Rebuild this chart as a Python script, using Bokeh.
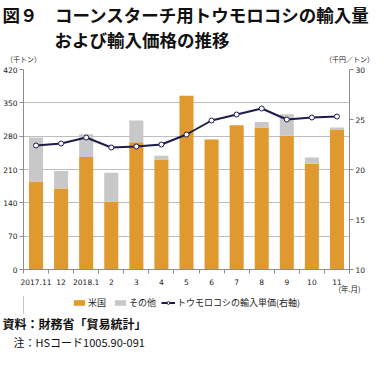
from bokeh.plotting import figure
from bokeh.layouts import column
from bokeh.models import (Range1d, LinearAxis, FixedTicker, Legend, LegendItem,
                          ColumnDataSource, Title)
from bokeh.embed import file_html
from bokeh.resources import INLINE

# ---- data ----
months = ["2017.11", "12", "2018.1", "2", "3", "4", "5", "6", "7", "8", "9", "10", "11"]
us_volume = [185, 170, 236, 143, 267, 231, 365, 273, 303, 298, 281, 222, 294]
other_volume = [92, 37, 48, 60, 46, 8, 0, 0, 0, 12, 45, 13, 4]
unit_price = [22.4, 22.6, 23.2, 22.2, 22.3, 22.5, 23.5, 24.9, 25.5, 26.1, 25.0, 25.2, 25.3]
left_ticks = [0, 70, 140, 210, 280, 350, 420]
right_ticks = [10, 15, 20, 25, 30]
unit_labels = ["（千トン）", "（千円／トン）"]
x_unit_label = "(年.月)"
series_names = ["米国", "その他", "トウモロコシの輸入単価(右軸)"]

ORANGE = "#E0992E"
GREY = "#C8C8C8"
NAVY = "#1E1C4C"
AXIS = "#8C8C8C"
TXT = "#1a1a1a"
JP = "Noto Sans CJK JP"
NUM = "DejaVu Sans"

W = 374
H_MAIN, H_FOOT = 296, 53
LEFT, RIGHT = 21, 25

xs = list(range(len(months)))
src = ColumnDataSource(dict(x=xs, us=us_volume, other=other_volume, price=unit_price))

p = figure(width=W, height=H_MAIN, output_backend="svg", toolbar_location=None,
           x_range=Range1d(-0.5, len(months) - 0.5), y_range=Range1d(0, 420),
           min_border_top=0, min_border_bottom=0,
           min_border_left=LEFT, min_border_right=RIGHT,
           title=None, x_axis_location=None, y_axis_location=None)
p.outline_line_color = None
p.background_fill_color = "white"
p.border_fill_color = "white"
p.extra_y_ranges = {"price": Range1d(10, 30)}
p.extra_x_ranges = {"unit": Range1d(0, 1), "ym": Range1d(0, 1)}

# grid
p.xgrid.visible = False
p.ygrid.ticker = FixedTicker(ticks=left_ticks[1:])
p.ygrid.grid_line_color = "#BDBDBD"
p.ygrid.grid_line_width = 1

# x axis (ticks between categories)
xaxis = LinearAxis(ticker=FixedTicker(ticks=xs, minor_ticks=[i - 0.5 for i in range(len(months) + 1)]))
xaxis.major_label_overrides = {i: m for i, m in enumerate(months)}
xaxis.major_tick_out = 0
xaxis.major_tick_in = 0
xaxis.minor_tick_out = 4
xaxis.minor_tick_in = 0
xaxis.minor_tick_line_color = AXIS
xaxis.axis_line_color = AXIS
xaxis.major_label_standoff = 5
xaxis.major_label_text_font = NUM
xaxis.major_label_text_font_size = "7.5px"
xaxis.major_label_text_color = TXT
p.add_layout(xaxis, "below")

# (年.月) label row
ymaxis = LinearAxis(x_range_name="ym", ticker=FixedTicker(ticks=[1]))
ymaxis.major_label_overrides = {1: x_unit_label}
ymaxis.axis_line_color = None
ymaxis.major_tick_line_color = None
ymaxis.minor_tick_line_color = None
ymaxis.major_tick_out = 0
ymaxis.major_tick_in = 0
ymaxis.major_label_standoff = -5
ymaxis.major_label_text_font = JP
ymaxis.major_label_text_font_size = "7.5px"
ymaxis.major_label_text_color = TXT
p.add_layout(ymaxis, "below")

# y axes
laxis = LinearAxis(ticker=FixedTicker(ticks=left_ticks))
raxis = LinearAxis(ticker=FixedTicker(ticks=right_ticks), y_range_name="price")
for ax in (laxis, raxis):
    ax.major_tick_out = 4
    ax.major_tick_in = 0
    ax.minor_tick_out = 0
    ax.minor_tick_in = 0
    ax.axis_line_color = AXIS
    ax.major_tick_line_color = AXIS
    ax.major_label_standoff = 2
    ax.major_label_text_font = NUM
    ax.major_label_text_font_size = "7.5px"
    ax.major_label_text_color = TXT
p.add_layout(laxis, "left")
p.add_layout(raxis, "right")

# unit labels row above the plot
uaxis = LinearAxis(x_range_name="unit", ticker=FixedTicker(ticks=[0, 1]))
uaxis.major_label_overrides = {0: unit_labels[0], 1: unit_labels[1]}
uaxis.axis_line_color = None
uaxis.major_tick_line_color = None
uaxis.minor_tick_line_color = None
uaxis.major_tick_out = 0
uaxis.major_tick_in = 0
uaxis.major_label_standoff = 6
uaxis.major_label_text_font = JP
uaxis.major_label_text_font_size = "7px"
uaxis.major_label_text_color = TXT
p.add_layout(uaxis, "above")

# bars and line
bars = p.vbar_stack(["us", "other"], x="x", width=0.56, source=src,
                    color=[ORANGE, GREY], line_color=None)
ln = p.line("x", "price", source=src, y_range_name="price", line_color=NAVY, line_width=2)
sc = p.scatter("x", "price", source=src, y_range_name="price", size=5,
               fill_color="white", line_color=NAVY, line_width=1)

def title(fig, text, size, offset, place, bold=False, standoff=2):
    t = Title(text=text, align="left", offset=offset, text_font=JP,
              text_font_size=size, text_color="#111111", standoff=standoff,
              text_font_style="bold" if bold else "normal")
    fig.add_layout(t, place)

# above: added from nearest to farthest
title(p, "および輸入価格の推移", "17.5px", 31, "above", bold=True, standoff=-3)
title(p, "図９　コーンスターチ用トウモロコシの輸入量", "17.5px", -LEFT, "above", bold=True, standoff=-1)

# ---- footer: legend + source notes ----
f = figure(width=W, height=H_FOOT, output_backend="svg", toolbar_location=None,
           x_range=Range1d(0, 1), y_range=Range1d(0, 1),
           min_border_left=LEFT, min_border_right=RIGHT,
           min_border_top=0, min_border_bottom=0,
           title=None, x_axis_location=None, y_axis_location=None)
f.outline_line_color = None
f.xgrid.visible = False
f.ygrid.visible = False
f.background_fill_color = "white"
f.border_fill_color = "white"
# legend proxies: same data, drawn on an off-screen range so only the legend shows them
f.extra_x_ranges = {"off": Range1d(1000, 2000)}
r_us = f.vbar(x="x", top="us", width=0.56, source=src, x_range_name="off",
              color=ORANGE, line_color=None)
r_ot = f.vbar(x="x", top="other", width=0.56, source=src, x_range_name="off",
              color=GREY, line_color=None)
r_ln = f.line("x", "price", source=src, x_range_name="off", line_color=NAVY, line_width=2)
r_sc = f.scatter("x", "price", source=src, x_range_name="off", size=5,
                 fill_color="white", line_color=NAVY, line_width=1)

legend = Legend(items=[LegendItem(label=series_names[0], renderers=[r_us]),
                       LegendItem(label=series_names[1], renderers=[r_ot]),
                       LegendItem(label=series_names[2], renderers=[r_ln, r_sc])],
                orientation="horizontal", location="top_center")
legend.background_fill_alpha = 0
legend.border_line_color = None
legend.padding = 0
legend.margin = 0
legend.spacing = 5
legend.label_standoff = 2
legend.glyph_width = 14
legend.glyph_height = 7
legend.label_text_font = JP
legend.label_text_font_size = "9px"
legend.label_text_color = TXT
legend.label_height = 10
f.add_layout(legend, "center")

# below footer frame: nearest first
title(f, "資料：財務省「貿易統計」", "12px", -LEFT, "below", bold=True, standoff=-1)
title(f, "注：HSコード1005.90-091", "11px", -LEFT + 11, "below", standoff=0)

open("out.html", "w").write(file_html(column(p, f, spacing=0), INLINE))
